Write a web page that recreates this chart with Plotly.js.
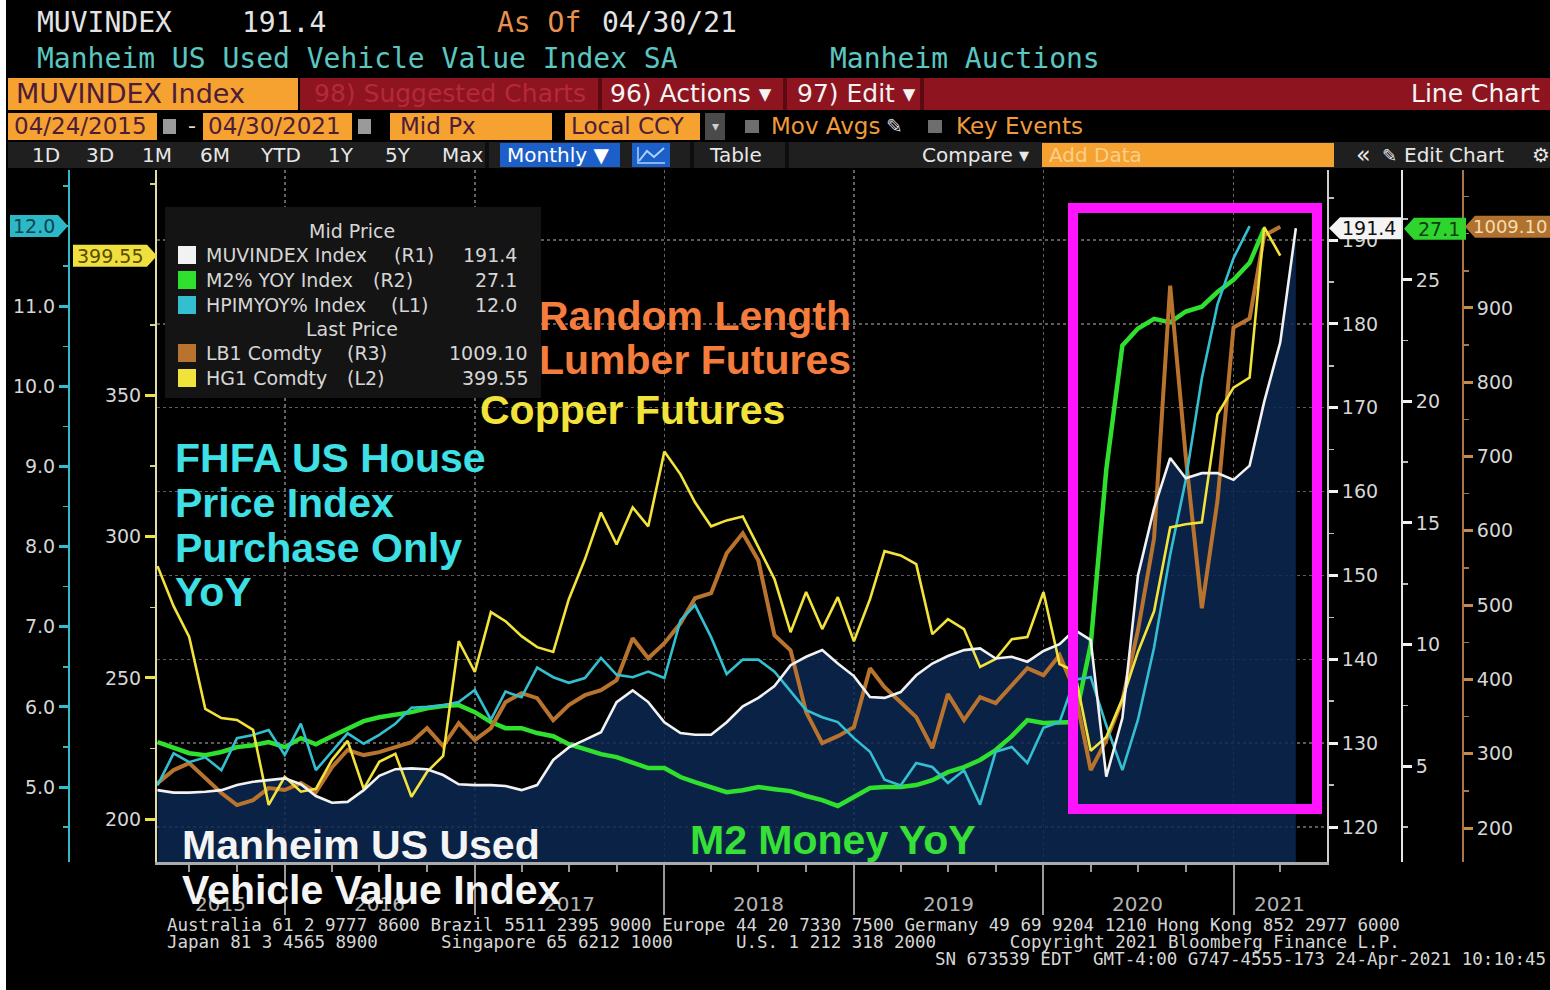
<!DOCTYPE html>
<html><head><meta charset="utf-8">
<script src="https://cdn.plot.ly/plotly-3.0.1.min.js"></script>
<style>html,body{margin:0;padding:0;background:#000;}#chart{width:1550px;height:990px;}</style>
</head><body><div id="chart"></div>
<script>
// ---------------- DATA ----------------
const months = ['2015-04','2015-05','2015-06','2015-07','2015-08','2015-09','2015-10','2015-11','2015-12',
'2016-01','2016-02','2016-03','2016-04','2016-05','2016-06','2016-07','2016-08','2016-09','2016-10','2016-11','2016-12',
'2017-01','2017-02','2017-03','2017-04','2017-05','2017-06','2017-07','2017-08','2017-09','2017-10','2017-11','2017-12',
'2018-01','2018-02','2018-03','2018-04','2018-05','2018-06','2018-07','2018-08','2018-09','2018-10','2018-11','2018-12',
'2019-01','2019-02','2019-03','2019-04','2019-05','2019-06','2019-07','2019-08','2019-09','2019-10','2019-11','2019-12',
'2020-01','2020-02','2020-03','2020-04','2020-05','2020-06','2020-07','2020-08','2020-09','2020-10','2020-11','2020-12',
'2021-01','2021-02','2021-03','2021-04'];

// MUVINDEX Index (R1) – Manheim US Used Vehicle Value Index
const muvIndex = [124.4,124.1,124.1,124.2,124.4,125.0,125.4,125.6,125.8,125.1,
123.7,122.9,123.0,124.4,126.1,126.9,127.0,126.9,126.2,125.1,
125.0,125.0,124.9,124.4,125.0,128.0,129.5,130.4,131.3,134.9,
136.3,134.9,132.5,131.2,131.0,131.0,132.5,134.4,135.4,136.8,
139.3,140.3,141.1,139.5,138.0,135.5,135.4,136.1,138.1,139.5,
140.4,141.1,141.3,140.1,140.3,139.7,141.0,141.8,143.5,142.3,
126.0,133.0,150.0,158.0,164.0,161.6,162.2,162.2,161.4,163.1,
170.7,177.8,191.4];

// M2% YOY Index (R2)
const m2Yoy = [5.99,5.74,5.53,5.45,5.58,5.78,5.86,5.99,5.78,6.15,
5.90,6.23,6.56,6.85,7.01,7.10,7.22,7.38,7.47,7.51,
7.22,6.81,6.56,6.56,6.36,6.23,5.90,5.70,5.49,5.37,
5.16,4.92,4.92,4.55,4.34,4.14,3.93,4.01,4.14,4.05,
3.97,3.77,3.60,3.36,3.73,4.10,4.14,4.14,4.22,4.42,
4.75,4.96,5.25,5.66,6.23,6.89,6.77,6.77,6.81,10.0,
17.2,22.3,23.0,23.4,23.25,23.7,23.9,24.5,25.0,25.7,27.1];

// HPIMYOY% Index (L1) – FHFA US House Price Index Purchase Only YoY
const hpiYoy = [5.02,5.42,5.31,5.37,5.21,5.61,5.65,5.71,5.40,5.79,
5.21,5.44,5.67,5.54,5.65,5.79,5.99,6.00,6.02,6.06,
6.21,5.84,6.19,6.12,6.49,6.37,6.30,6.36,6.61,6.40,
6.37,6.44,6.36,7.08,7.27,6.87,6.41,6.59,6.59,6.44,
6.19,5.96,5.87,5.81,5.61,5.44,5.09,5.02,5.30,5.25,
5.05,5.21,4.78,5.44,5.50,5.30,5.74,5.81,6.34,6.37,
5.77,5.21,5.84,6.74,7.90,8.83,10.1,11.02,11.6,12.0];

// LB1 Comdty (R3) – Random Length Lumber Futures
const lumber = [260.5,278,287.4,267.2,247.1,230.9,237.6,253.8,251.1,260.5,
248.4,282,305,298.2,302.2,308.9,315.6,334.5,310.3,341.2,
318.3,334.5,369.4,381.5,374.8,345.2,365.4,378.8,385.6,399,
455.5,428.6,448.8,475.6,509.3,516,569.8,596.7,560,459.5,
439.3,356,314.3,323.7,335.8,415.1,389.6,369.4,349.3,307.6,
380.2,345.2,376.1,368.1,392.3,415.1,405.7,432.6,385.6,278,
318.3,372.1,466.2,590,930,700,495.8,640,873.7,885.8,997.4,1009.10];

// HG1 Comdty (L2) – Copper Futures
const copper = [289.6,275.4,264.5,239.0,235.8,235.1,231.6,205.0,215.0,209.7,
210.7,221.0,227.7,210.7,220.3,223.1,207.9,216.7,222.4,263.0,
252.1,273.3,270.1,264.8,260.9,259.2,277.9,292.0,308.6,297.3,
310.4,303.7,330.2,322.1,312.2,303.7,305.8,307.2,296.3,285.0,
266.2,280.4,267.3,278.6,263.0,277.9,294.9,293.4,290.3,265.5,
270.8,267.3,253.9,256.7,263.7,264.5,280.4,254.9,252.4,224.2,
229.1,242.5,259.2,273.6,303.3,304.4,305.1,343.3,352.8,356.4,409.7,399.55];

const yearTicks = ['2016-01-01','2017-01-01','2018-01-01','2019-01-01','2020-01-01','2021-01-01'];
const yearLabels = ['2015','2016','2017','2018','2019','2020','2021'];
const yearLabelPos = ['2015-08-30','2016-07-01','2017-07-02','2018-07-02','2019-07-02','2020-07-01','2021-03-31'];
const lumberTicks = [200,300,400,500,600,700,800,900];
const copperTicks = [200,250,300,350];
const hpiTicks = [5,6,7,8,9,10,11];

// ---------------- HELPERS ----------------
const W = 1550, H = 990;
const P = x => x / W;
const Q = y => 1 - y / H;
const SANS = 'DejaVu Sans', MONO = 'DejaVu Sans Mono', BOLD = 'Liberation Sans, Arial, sans-serif';
const shapes = [], ann = [];
function rect(x0, y0, x1, y1, fill) {
  shapes.push({type:'rect', xref:'paper', yref:'paper', x0:P(x0), x1:P(x1), y0:Q(y1), y1:Q(y0),
    fillcolor:fill, line:{width:0}, layer:'above'});
}
function txt(x, y, text, size, color, family, xanchor) {
  ann.push({xref:'paper', yref:'paper', x:P(x), y:Q(y), text:text, showarrow:false,
    xanchor:xanchor || 'left', yanchor:'middle', font:{family:family || SANS, size:size, color:color}});
}
const nb = s => s.replace(/ /g, '\u00A0');

// ---------------- HEADER ----------------
rect(0, 0, 6, 990, '#ffffff');
txt(35, 22, 'MUVINDEX', 28, '#e4e4e4', MONO);
txt(240, 22, muvIndex[muvIndex.length-1].toFixed(1), 28, '#e4e4e4', MONO);
txt(495, 22, 'As Of', 28, '#e8904c', MONO);
txt(600, 22, '04/30/21', 28, '#e4e4e4', MONO);
txt(35, 58, 'Manheim US Used Vehicle Value Index SA', 28, '#5cc6c0', MONO);
txt(828, 58, 'Manheim Auctions', 28, '#5cc6c0', MONO);

// row 3
rect(8, 78, 298, 110, '#f5a231');
rect(300, 78, 1550, 110, '#8e1420');
rect(598, 78, 602, 110, '#5c0a12');
rect(783, 78, 787, 110, '#5c0a12');
rect(920, 78, 924, 110, '#5c0a12');
txt(14, 94, 'MUVINDEX Index', 27, '#4e1b38');
txt(312, 94, '98) Suggested Charts', 25, '#b42a38');
txt(608, 94, '96) Actions \u25BE', 25, '#f4f4f4');
txt(795, 94, '97) Edit \u25BE', 25, '#f4f4f4');
txt(1542, 94, 'Line Chart', 25, '#f4f4f4', SANS, 'right');

// row 4
rect(8, 113, 157, 140, '#f5a231');
rect(163, 119, 176, 134, '#9a9a9a');
txt(186, 126, '-', 22, '#e0e0e0');
rect(203, 113, 352, 140, '#f5a231');
rect(358, 119, 371, 134, '#9a9a9a');
rect(390, 113, 552, 140, '#f5a231');
rect(565, 113, 700, 140, '#f5a231');
rect(705, 113, 725, 140, '#4a4a4a');
txt(715, 126, '\u25BE', 14, '#cfcfcf', SANS, 'center');
txt(12, 126, '04/24/2015', 23, '#4e1b38');
txt(206, 126, '04/30/2021', 23, '#4e1b38');
txt(398, 126, 'Mid Px', 23, '#4e1b38');
txt(569, 126, 'Local CCY', 23, '#4e1b38');
rect(745, 120, 759, 133, '#6e6e6e');
txt(769, 126, 'Mov Avgs', 23, '#f09a3c');
txt(884, 126, '\u270E', 20, '#d8d8d8');
rect(928, 120, 942, 133, '#6e6e6e');
txt(954, 126, 'Key Events', 23, '#f09a3c');

// row 5
rect(8, 142, 1550, 168, '#1f1f1f');
rect(485, 142, 489, 168, '#0e0e0e');
rect(690, 142, 694, 168, '#0e0e0e');
rect(785, 142, 789, 168, '#0e0e0e');
rect(500, 143, 620, 167, '#1d5fc8');
rect(632, 143, 670, 167, '#1d5fc8');
shapes.push({type:'path', xref:'paper', yref:'paper', layer:'above',
  path:`M${P(639)},${Q(161)} L${P(647)},${Q(151)} L${P(654)},${Q(157)} L${P(664)},${Q(148)}`,
  line:{color:'#a8d4ff', width:2}});
shapes.push({type:'path', xref:'paper', yref:'paper', layer:'above',
  path:`M${P(638)},${Q(147)} L${P(638)},${Q(163)} L${P(665)},${Q(163)}`, line:{color:'#a8d4ff', width:1.5}});
[['1D',30],['3D',84],['1M',140],['6M',198],['YTD',258],['1Y',326],['5Y',383],['Max',440]].forEach(d => txt(d[1], 155, d[0], 20, '#e8e8e8'));
txt(505, 155, 'Monthly \u25BC', 20, '#ffffff');
txt(707, 155, 'Table', 20, '#e8e8e8');
txt(920, 155, 'Compare \u25BE', 20, '#e8e8e8');
rect(1042, 143, 1334, 167, '#f5a231');
txt(1047, 155, 'Add Data', 20, '#fbd08a');
txt(1354, 155, '\u00AB', 24, '#e8e8e8');
txt(1380, 155, '\u270E', 18, '#e8e8e8');
txt(1402, 155, 'Edit Chart', 20, '#e8e8e8');
txt(1530, 155, '\u2699', 20, '#e8e8e8');

// ---------------- LEGEND ----------------
rect(165, 207, 541, 398, '#141414');
const legFont = 19, legCol = '#d6d6d6';
txt(352, 231, 'Mid Price', legFont, legCol, SANS, 'center');
txt(352, 329, 'Last Price', legFont, legCol, SANS, 'center');
const legRows = [
  ['MUVINDEX Index', '(R1)', muvIndex[muvIndex.length-1].toFixed(1), '#f2f2f2', 255, 392, 519],
  ['M2% YOY Index', '(R2)', m2Yoy[m2Yoy.length-1].toFixed(1), '#2fe02f', 280, 371, 519],
  ['HPIMYOY% Index', '(L1)', hpiYoy[hpiYoy.length-1].toFixed(1), '#33bfd0', 305, 389, 519],
  ['LB1 Comdty', '(R3)', lumber[lumber.length-1].toFixed(2), '#b8732f', 353, 345, 530],
  ['HG1 Comdty', '(L2)', copper[copper.length-1].toFixed(2), '#f2e23c', 378, 345, 530]
];
legRows.forEach(r => {
  rect(178, r[4]-9, 196, r[4]+9, r[3]);
  txt(204, r[4], r[0], legFont, legCol);
  txt(r[5], r[4], r[1], legFont, legCol);
  txt(r[6], r[4], r[2], legFont, legCol, SANS, 'right');
});

// ---------------- YEAR LABELS ----------------
yearLabels.forEach((t, i) => ann.push({xref:'x', yref:'paper', x:yearLabelPos[i], y:Q(904), text:t,
  showarrow:false, xanchor:'center', yanchor:'middle', font:{family:SANS, size:20, color:'#b4b4b4'}}));

// ---------------- FOOTER ----------------
txt(165, 925, nb('Australia 61 2 9777 8600 Brazil 5511 2395 9000 Europe 44 20 7330 7500 Germany 49 69 9204 1210 Hong Kong 852 2977 6000'), 17.5, '#d6d6d6', MONO);
txt(165, 942, nb('Japan 81 3 4565 8900      Singapore 65 6212 1000      U.S. 1 212 318 2000       Copyright 2021 Bloomberg Finance L.P.'), 17.5, '#d6d6d6', MONO);
txt(933, 959, nb('SN 673539 EDT  GMT-4:00 G747-4555-173 24-Apr-2021 10:10:45'), 17.5, '#d6d6d6', MONO);

// ---------------- BIG ANNOTATIONS ----------------
const big = (x, y, t, c) => txt(x, y, '<b>' + t + '</b>', 41, c, BOLD);
big(537, 316, 'Random Length', '#f47c3c');
big(537, 360, 'Lumber Futures', '#f47c3c');
big(478, 410, 'Copper Futures', '#f2e33a');
big(173, 458, 'FHFA US House', '#3ee0e6');
big(173, 503, 'Price Index', '#3ee0e6');
big(173, 548, 'Purchase Only', '#3ee0e6');
big(173, 592, 'YoY', '#3ee0e6');
big(180, 845, 'Manheim US Used', '#f4f4f4');
big(180, 890, 'Vehicle Value Index', '#f4f4f4');
big(688, 840, 'M2 Money YoY', '#36e036');

// ---------------- HIGHLIGHT BOX ----------------
shapes.push({type:'rect', xref:'paper', yref:'paper', x0:P(1073), x1:P(1317), y0:Q(809), y1:Q(208),
  line:{color:'#ff14ff', width:10}, fillcolor:'rgba(0,0,0,0)', layer:'above'});

// ---------------- VALUE TAGS ----------------
function tag(yref, val, tip, base, end, fill, label, cx, tcol, fs) {
  shapes.push({type:'path', xref:'paper', yref:yref, ysizemode:'pixel', yanchor:val, layer:'above',
    path:`M${P(tip)},0 L${P(base)},11 L${P(end)},11 L${P(end)},-11 L${P(base)},-11 Z`,
    fillcolor:fill, line:{width:0}});
  ann.push({xref:'paper', yref:yref, x:P(cx), y:val, text:label, showarrow:false, xanchor:'center', yanchor:'middle',
    font:{family:SANS, size:fs || 19, color:tcol}});
}
const vMuv = muvIndex[muvIndex.length-1], vM2 = m2Yoy[m2Yoy.length-1], vLb = lumber[lumber.length-1],
      vHpi = hpiYoy[hpiYoy.length-1], vCu = copper[copper.length-1];
tag('y',  vMuv, 1329, 1340, 1401, '#f4f4f4', vMuv.toFixed(1), 1369, '#111111');
tag('y2', vM2,  1404, 1414, 1466, '#2fd42f', vM2.toFixed(1), 1439, '#0c3f0c');
tag('y3', vLb,  1465, 1475, 1552, '#b0722e', vLb.toFixed(2), 1510, '#f6dcb0', 18);
tag('y4', vHpi, 68, 58, 10, '#2db8c8', vHpi.toFixed(1), 34, '#0a4650');
tag('y5', vCu,  157, 147, 73, '#efe040', vCu.toFixed(2), 110, '#5a4c00');

// ---------------- TRACES ----------------
const per = {xperiod:'M1', xperiodalignment:'end', type:'scatter', mode:'lines', hoverinfo:'skip'};
const traces = [
  Object.assign({x:months, y:muvIndex, yaxis:'y', fill:'tozeroy', fillcolor:'rgba(12,40,80,0.86)', line:{color:'#f2f2f2', width:0.5}}, per),
  Object.assign({x:months.slice(0, m2Yoy.length), y:m2Yoy, yaxis:'y2', line:{color:'#2fe02f', width:4.5}}, per),
  Object.assign({x:months.slice(0, lumber.length), y:lumber, yaxis:'y3', line:{color:'#b8732f', width:4}}, per),
  Object.assign({x:months.slice(0, hpiYoy.length), y:hpiYoy, yaxis:'y4', line:{color:'#33bfd0', width:2.6}}, per),
  Object.assign({x:months.slice(0, copper.length), y:copper, yaxis:'y5', line:{color:'#f2e23c', width:2.6}}, per),
  Object.assign({x:months, y:muvIndex, yaxis:'y6', line:{color:'#f2f2f2', width:2.6}}, per)
];

// ---------------- LAYOUT ----------------
const tickFont = {family:SANS, size:19, color:'#d6d6d6'};
const yDom = [Q(862), Q(170)];
const R1 = [115.83, 198.35];
const layout = {
  width:W, height:H, margin:{l:0, r:0, t:0, b:0}, paper_bgcolor:'#000000', plot_bgcolor:'#000000', showlegend:false,
  xaxis:{type:'date', domain:[P(157), P(1327)], range:['2015-04-30','2021-06-30'], anchor:'y',
    tickmode:'array', tickvals:yearTicks, showticklabels:false, ticks:'outside', ticklen:50, tickwidth:2, tickcolor:'#9a9a9a',
    showgrid:true, gridcolor:'#626262', griddash:'dot', gridwidth:1.5, showline:true, linecolor:'#ababab', linewidth:2.5, zeroline:false,
    minor:{dtick:'M3', tick0:'2015-01-01', ticks:'outside', ticklen:7, tickwidth:2, tickcolor:'#9a9a9a', showgrid:false}},
  yaxis:{domain:yDom, range:R1, side:'right', anchor:'x', tick0:0, dtick:10, ticks:'outside', ticklen:9, tickwidth:3,
    tickcolor:'#f2f2f2', tickfont:tickFont, showline:true, linecolor:'#cfcfcf', linewidth:2, showgrid:true, gridcolor:'#5c5c5c',
    griddash:'dot', gridwidth:1.5, zeroline:false,
    minor:{tick0:0, dtick:5, ticks:'outside', ticklen:5, tickwidth:1.5, tickcolor:'#bdbdbd', showgrid:false}},
  yaxis2:{overlaying:'y', side:'right', anchor:'free', position:P(1402), range:[1.055, 29.52], tick0:0, dtick:5,
    ticks:'outside', ticklen:9, tickwidth:3, tickcolor:'#f2f2f2', tickfont:tickFont, showline:true, linecolor:'#e6e6e6',
    linewidth:2, showgrid:false, zeroline:false,
    minor:{tick0:0, dtick:2.5, ticks:'outside', ticklen:5, tickwidth:1.5, tickcolor:'#bdbdbd'}},
  yaxis3:{overlaying:'y', side:'right', anchor:'free', position:P(1463), range:[154.3, 1085.6], tickmode:'array', tickvals:lumberTicks,
    ticks:'outside', ticklen:9, tickwidth:3, tickcolor:'#c58a4c', tickfont:tickFont, showline:true, linecolor:'#a8764a',
    linewidth:2, showgrid:false, zeroline:false,
    minor:{tick0:0, dtick:50, ticks:'outside', ticklen:5, tickwidth:1.5, tickcolor:'#a8764a'}},
  yaxis4:{overlaying:'y', side:'left', anchor:'free', position:P(69), range:[4.064, 12.70], tickmode:'array', tickvals:hpiTicks, tickformat:'.1f',
    ticks:'outside', ticklen:9, tickwidth:3, tickcolor:'#33c0cc', tickfont:tickFont, showline:true, linecolor:'#33b8c4',
    linewidth:2, showgrid:false, zeroline:false,
    minor:{tick0:0, dtick:0.5, ticks:'outside', ticklen:5, tickwidth:1.5, tickcolor:'#33b8c4'}},
  yaxis5:{overlaying:'y', side:'left', anchor:'x', range:[184.8, 429.9], tickmode:'array', tickvals:copperTicks,
    ticks:'outside', ticklen:10, tickwidth:3, tickcolor:'#ece04a', tickfont:tickFont, showline:true, linecolor:'#e2dca8',
    linewidth:2, showgrid:false, zeroline:false,
    minor:{tick0:0, dtick:25, ticks:'outside', ticklen:5, tickwidth:1.5, tickcolor:'#d8d090'}},
  yaxis6:{overlaying:'y', anchor:'x', side:'right', range:R1, visible:false},
  shapes:shapes, annotations:ann
};

Plotly.newPlot('chart', traces, layout, {staticPlot:true, displayModeBar:false});
</script>
</body></html>
